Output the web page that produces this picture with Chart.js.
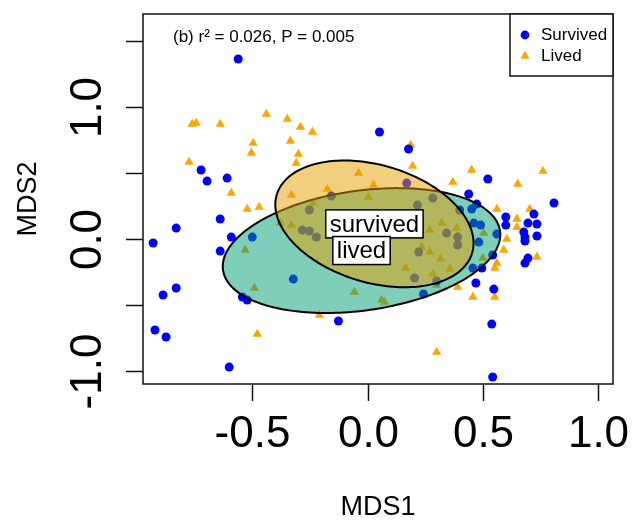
<!DOCTYPE html>
<html>
<head>
<meta charset="utf-8">
<title>MDS ordination</title>
<script src="https://cdn.jsdelivr.net/npm/chart.js@4.4.0/dist/chart.umd.min.js"></script>
<style>
  html, body { margin: 0; padding: 0; background: #fff; }
  #wrap { width: 636px; height: 522px; }
</style>
</head>
<body>
<div id="wrap"><canvas id="mdsChart" width="636" height="522"></canvas></div>
<script>
// Site scores on the first two MDS axes
const survivedX = [-0.561, 0.052, 0.178, 0.170, 0.283, 0.217, 0.522, 0.439, 0.474, 0.809, 0.400, 0.452, 0.600, 0.600, 0.722, 0.696,
  0.735, 0.678, 0.683, 0.735, 0.683, 0.461, 0.491, 0.561, 0.343, 0.391, 0.391, 0.483, 0.696, 0.683, 0.457, 0.496, 0.543, 0.470,
  0.548, 0.243, 0.539, 0.543, 0.222, 0.204, 0.300, -0.157, -0.252, -0.283, -0.252, -0.222, -0.722, -0.696, -0.609, -0.639,
  -0.830, -0.591, -0.500, -0.930, -0.639, -0.322, -0.830, -0.887, -0.543, -0.522, -0.126, -0.922, -0.874, -0.600];
const survivedY = [1.364, 0.811, 0.682, 0.424, 0.311, 0.258, 0.455, 0.341, 0.265, 0.273, 0.220, 0.227, 0.167, 0.106, 0.189, 0.121,
  0.114, 0.053, 0.015, 0.023, -0.015, 0.121, 0.106, 0.038, 0.045, 0.015, -0.045, -0.023, -0.144, -0.182, -0.220, -0.220, -0.121,
  -0.333, -0.379, -0.417, -0.644, -1.045, -0.098, -0.295, -0.318, 0.326, 0.220, 0.068, 0.061, 0.015, 0.523, 0.439, 0.462, 0.152,
  0.083, 0.015, 0.015, -0.030, -0.091, -0.303, -0.371, -0.424, -0.439, -0.462, -0.621, -0.689, -0.742, -0.970];

const livedX = [-0.761, -0.743, -0.639, -0.439, -0.348, -0.291, -0.239, -0.496, -0.504, -0.335, -0.300, -0.309, -0.774, -0.591,
  -0.522, -0.470, -0.330, -0.174, -0.039, 0.026, 0.004, -0.235, -0.378, -0.330, -0.530, -0.491, -0.057, 0.061, -0.209, -0.478,
  0.187, 0.196, 0.370, 0.452, 0.652, 0.761, 0.561, 0.704, 0.648, 0.648, 0.322, 0.387, 0.270, 0.504, 0.604, 0.591, 0.735, 0.235,
  0.270, 0.317, 0.561, 0.552, 0.457, 0.552, 0.300, 0.165, 0.357, 0.283, 0.391, 0.300, 0.500, 0.074];
const livedY = [0.871, 0.879, 0.871, 0.947, 0.909, 0.848, 0.811, 0.727, 0.652, 0.742, 0.644, 0.576, 0.583, 0.348, 0.227, 0.242,
  0.333, 0.379, 0.500, 0.409, 0.318, 0.273, 0.121, 0.106, -0.083, -0.371, -0.402, -0.462, -0.576, -0.720, 0.712, 0.553, 0.432,
  0.523, 0.417, 0.515, 0.227, 0.227, 0.152, 0.091, 0.121, 0.083, 0.068, 0.045, 0.000, -0.083, -0.136, -0.061, -0.098, -0.152,
  -0.182, -0.220, -0.439, -0.439, -0.856, -0.220, -0.227, -0.265, -0.364, -0.348, -0.144, -0.477];

// Axis ticks (empty label = tick mark only)
const xTicks = [-0.5, 0.0, 0.5, 1.0];
const xTickLabels = ['-0.5', '0.0', '0.5', '1.0'];
const yTicks = [-1.0, -0.5, 0.0, 0.5, 1.0, 1.5];
const yTickLabels = ['-1.0', '', '0.0', '', '1.0', ''];

// Group ellipses: centre, sd on each axis, correlation
const ellipseLabels = ['lived', 'survived'];
const ellipseCx = [-0.026, 0.030];
const ellipseCy = [-0.087, 0.115];
const ellipseSx = [0.602, 0.430];
const ellipseSy = [0.473, 0.480];
const ellipseR = [0.255, -0.303];

const statText = '(b) r\u00B2 = 0.026, P = 0.005';
const legendLabels = ['Survived', 'Lived'];

const FONT = '"Liberation Sans", Arial, Helvetica, sans-serif';
const BLUE = '#0000FF';
const ORANGE = '#FFA500';
const ellipseFill = ['rgba(0, 158, 115, 0.5)', 'rgba(230, 159, 0, 0.5)'];

const toPoints = (xs, ys) => xs.map((v, i) => ({ x: v, y: ys[i] }));

function drawTriangle(ctx, x, y, r) {
  ctx.beginPath();
  ctx.moveTo(x, y - r);
  ctx.lineTo(x + r * Math.sin(Math.PI * 2 / 3), y + r / 2);
  ctx.lineTo(x - r * Math.sin(Math.PI * 2 / 3), y + r / 2);
  ctx.closePath();
  ctx.fill();
}

// Ellipses, boxed group labels, axes, legend
const ordiPlot = {
  id: 'ordiPlot',
  afterDatasetsDraw(chart) {
    const ctx = chart.ctx;
    const xs = chart.scales.x, ys = chart.scales.y;

    ellipseLabels.forEach((name, i) => {
      const r = ellipseR[i];
      ctx.save();
      ctx.beginPath();
      for (let k = 0; k <= 200; k++) {
        const t = k / 200 * Math.PI * 2;
        const dx = ellipseSx[i] * Math.cos(t);
        const dy = ellipseSy[i] * (r * Math.cos(t) + Math.sqrt(1 - r * r) * Math.sin(t));
        const px = xs.getPixelForValue(ellipseCx[i] + dx);
        const py = ys.getPixelForValue(ellipseCy[i] + dy);
        if (k === 0) ctx.moveTo(px, py); else ctx.lineTo(px, py);
      }
      ctx.closePath();
      ctx.fillStyle = ellipseFill[i];
      ctx.fill();
      ctx.lineWidth = 2;
      ctx.strokeStyle = '#000';
      ctx.stroke();
      ctx.restore();
    });

    ctx.save();
    ctx.font = '24px ' + FONT;
    ctx.textAlign = 'center';
    ctx.textBaseline = 'middle';
    [1, 0].forEach(i => {
      const cx = xs.getPixelForValue(ellipseCx[i]);
      const cy = ys.getPixelForValue(ellipseCy[i]);
      const w = ctx.measureText(ellipseLabels[i]).width + 8;
      const h = 28;
      ctx.fillStyle = '#fff';
      ctx.fillRect(cx - w / 2, cy - h / 2, w, h);
      ctx.lineWidth = 1.5;
      ctx.strokeStyle = '#000';
      ctx.strokeRect(cx - w / 2, cy - h / 2, w, h);
      ctx.fillStyle = '#000';
      ctx.fillText(ellipseLabels[i], cx, cy + 1);
    });
    ctx.restore();
  },
  afterDraw(chart) {
    const ctx = chart.ctx;
    const { left, right, top, bottom } = chart.chartArea;
    const xs = chart.scales.x, ys = chart.scales.y;

    ctx.save();
    ctx.strokeStyle = '#111';
    ctx.fillStyle = '#000';
    ctx.lineWidth = 1.5;
    ctx.strokeRect(left, top, right - left, bottom - top);

    // x axis
    ctx.font = '44px ' + FONT;
    ctx.textAlign = 'center';
    ctx.textBaseline = 'alphabetic';
    xTicks.forEach((v, i) => {
      const px = Math.round(xs.getPixelForValue(v)) + 0.5;
      ctx.beginPath();
      ctx.moveTo(px, bottom);
      ctx.lineTo(px, bottom + 17);
      ctx.stroke();
      if (xTickLabels[i]) ctx.fillText(xTickLabels[i], px, bottom + 63);
    });

    // y axis, labels parallel to the axis
    yTicks.forEach((v, i) => {
      const py = Math.round(ys.getPixelForValue(v)) + 0.5;
      ctx.beginPath();
      ctx.moveTo(left - 17, py);
      ctx.lineTo(left, py);
      ctx.stroke();
      if (yTickLabels[i]) {
        ctx.save();
        ctx.translate(left - 42, py);
        ctx.rotate(-Math.PI / 2);
        ctx.fillText(yTickLabels[i], 0, 0);
        ctx.restore();
      }
    });

    // axis titles
    ctx.font = '27px ' + FONT;
    ctx.fillText('MDS1', (left + right) / 2, bottom + 131);
    ctx.save();
    ctx.translate(36, (top + bottom) / 2);
    ctx.rotate(-Math.PI / 2);
    ctx.fillText('MDS2', 0, 0);
    ctx.restore();

    // statistics note
    ctx.font = '17px ' + FONT;
    ctx.textAlign = 'left';
    ctx.fillText(statText, 173, top + 28);

    // legend, top right corner
    const lw = 103, lh = 62;
    ctx.fillStyle = '#fff';
    ctx.fillRect(right - lw, top, lw, lh);
    ctx.strokeRect(right - lw, top, lw, lh);
    ctx.fillStyle = BLUE;
    ctx.beginPath();
    ctx.arc(right - lw + 15, top + 21, 4.4, 0, Math.PI * 2);
    ctx.fill();
    ctx.fillStyle = ORANGE;
    drawTriangle(ctx, right - lw + 15, top + 42, 5.3);
    ctx.fillStyle = '#000';
    ctx.textBaseline = 'middle';
    ctx.fillText(legendLabels[0], right - lw + 31, top + 21);
    ctx.fillText(legendLabels[1], right - lw + 31, top + 42);
    ctx.restore();
  }
};

new Chart(document.getElementById('mdsChart'), {
  type: 'scatter',
  data: {
    datasets: [
      {
        label: legendLabels[0],
        data: toPoints(survivedX, survivedY),
        pointStyle: 'circle',
        pointRadius: 4.5,
        pointBorderWidth: 0,
        pointBackgroundColor: BLUE
      },
      {
        label: legendLabels[1],
        data: toPoints(livedX, livedY),
        pointStyle: 'triangle',
        pointRadius: 5.4,
        pointBorderWidth: 0,
        pointBackgroundColor: ORANGE
      }
    ]
  },
  options: {
    responsive: false,
    animation: false,
    devicePixelRatio: 1,
    layout: { padding: { left: 143, top: 14, right: 23, bottom: 138 } },
    plugins: {
      legend: { display: false },
      tooltip: { enabled: false }
    },
    scales: {
      x: { type: 'linear', min: -0.974, max: 1.065, display: false },
      y: { type: 'linear', min: -1.098, max: 1.705, display: false }
    }
  },
  plugins: [ordiPlot]
});
</script>
</body>
</html>
